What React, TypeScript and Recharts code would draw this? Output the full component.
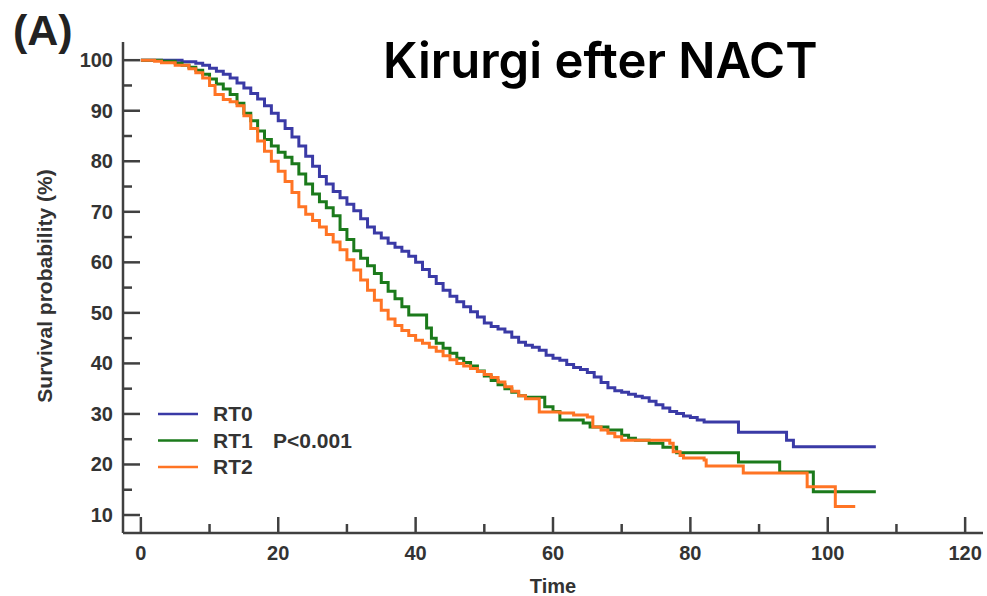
import { Legend, Line, LineChart, XAxis, YAxis } from "recharts";

// Kaplan-Meier steps: [time, survival %]
const rt0: [number, number][] = [
  [0, 100], [4, 100], [6, 99.7], [8, 99.4], [9, 99], [10, 98.4], [11, 97.8],
  [12, 97.2], [13, 96.5], [14, 95.5], [15, 94.5], [16, 93.4], [17, 92.3],
  [18, 91], [19, 89.5], [20, 88], [21, 86.5], [22, 84.8], [23, 83], [24, 81],
  [25, 79], [26, 77], [27, 75.5], [28, 74], [29, 72.8], [30, 71.5], [31, 70.2],
  [32, 68.6], [33, 67], [34, 65.8], [35, 64.8], [36, 63.8], [37, 63], [38, 62.2],
  [39, 61.2], [40, 60], [41, 58.6], [42, 57.2], [43, 55.8], [44, 54.5],
  [45, 53.3], [46, 52.2], [47, 51.2], [48, 50.2], [49, 49.2], [50, 48],
  [51, 47.3], [52, 46.8], [53, 46.2], [54, 45.2], [55, 44.2], [56, 43.6],
  [57, 43.2], [58, 42.6], [59, 41.6], [60, 41], [61, 40.6], [62, 39.8],
  [63, 39.2], [64, 38.8], [65, 38.2], [66, 37.3], [67, 36.2], [68, 35.2],
  [69, 34.6], [70, 34.3], [71, 33.9], [72, 33.5], [73, 33.2], [74, 32.5],
  [75, 31.8], [76, 31.2], [77, 30.5], [78, 30.1], [79, 29.6], [80, 29.3],
  [81, 28.8], [82, 28.4], [87, 26.4], [94, 24.8], [95, 23.5], [107, 23.5],
];

const rt1: [number, number][] = [
  [0, 100], [3, 99.8], [5, 99.4], [6, 99], [7, 98.6], [8, 98], [9, 97.2],
  [10, 96.3], [11, 95.3], [12, 94.3], [13, 93.2], [14, 91.5], [15, 89.5],
  [16, 88], [17, 86], [18, 84.3], [19, 83], [20, 81.8], [21, 80.8], [22, 79.5],
  [23, 77.5], [24, 75.5], [25, 73.5], [26, 72], [27, 70.8], [28, 69.2],
  [29, 66.5], [30, 64.5], [31, 62.3], [32, 60.8], [33, 59.3], [34, 57.8],
  [35, 56], [36, 54.3], [37, 52.8], [38, 51.2], [39, 49.6], [41.6, 47],
  [42.3, 45], [43, 44], [44, 43], [45, 42], [46, 41], [47, 40.2], [48, 39.5],
  [49, 38.5], [50, 37.5], [51, 36.6], [52, 35.8], [53, 35], [54, 34.3],
  [55, 33.6], [56, 33.3], [58.8, 31.4], [60, 30.5], [61, 28.8], [64.4, 28.2],
  [65.4, 27.4], [68, 26.8], [70, 25.8], [71, 25.2], [72, 24.8], [74, 24.2],
  [76, 23.4], [78, 22.3], [87, 20.5], [93, 18.5], [97.9, 14.6], [107, 14.6],
];

const rt2: [number, number][] = [
  [0, 100], [2, 99.8], [3, 99.5], [5, 99], [7, 98.3], [8, 97.5], [9, 96.5],
  [10, 95], [10.8, 93.2], [12, 92.2], [13, 91.8], [14, 91], [15, 89], [16, 86.5],
  [17, 84], [18, 82], [19, 80], [20, 78], [21, 76], [22, 73.8], [23, 71],
  [24, 69.5], [25, 68.3], [26, 67], [27, 65.5], [28, 64], [29, 62.5],
  [30, 60.5], [31, 58.5], [32, 56.5], [33, 54.5], [34, 52.5], [35, 50.5],
  [36, 48.8], [37, 47.5], [38, 46.5], [39, 45.5], [40, 44.6], [41, 44],
  [42, 43.2], [43, 42.4], [44, 41.5], [45, 40.7], [46, 40], [47, 39.5],
  [48, 39], [49, 38.4], [50, 37.8], [51, 37.2], [52, 36.3], [53, 35.4],
  [54, 34.5], [55, 33.6], [56, 33], [58, 30.4], [61, 30.2], [63, 29.8],
  [65, 29.4], [65.8, 27.4], [67, 26.8], [68, 26.2], [69, 25.5], [70, 24.8],
  [77, 24.2], [77.5, 22.5], [78.5, 21.8], [79, 21.3], [82, 20.9], [82.3, 19.7],
  [87.7, 18.3], [97, 15.6], [101.1, 11.7], [104, 11.7],
];

const xTicks = [0, 10, 20, 30, 40, 50, 60, 70, 80, 90, 100, 110, 120];
const yTicks = [10, 15, 20, 25, 30, 35, 40, 45, 50, 55, 60, 65, 70, 75, 80, 85, 90, 95, 100];

const AXIS = "#404040";
const FONT = "'Liberation Sans', Arial, sans-serif";

const series = [
  { name: "RT0", color: "#3a3aa6", points: rt0 },
  { name: "RT1", color: "#1b7a1b", points: rt1 },
  { name: "RT2", color: "#ff7424", points: rt2 },
];

const toRows = (pts: [number, number][]) => pts.map(([t, v]) => ({ t, v }));

const XTick = (props: any) => {
  const { x, y, payload } = props;
  const major = payload.value % 20 === 0;
  return (
    <g>
      <line x1={x} x2={x} y1={y} y2={y - (major ? 16 : 9)} stroke={AXIS} strokeWidth={2.5} />
      {major && (
        <text x={x} y={y + 27} textAnchor="middle" fontFamily={FONT} fontWeight="bold" fontSize={20} fill="#333">
          {payload.value}
        </text>
      )}
    </g>
  );
};

const YTick = (props: any) => {
  const { x, y, payload } = props;
  const major = payload.value % 10 === 0;
  return (
    <g>
      <line x1={x} x2={x + (major ? 17 : 9)} y1={y} y2={y} stroke={AXIS} strokeWidth={2.5} />
      {major && (
        <text x={x - 10} y={y + 7} textAnchor="end" fontFamily={FONT} fontWeight="bold" fontSize={20} fill="#333">
          {payload.value}
        </text>
      )}
    </g>
  );
};

const LegendBox = () => (
  <svg width={240} height={90}>
    {series.map((s, i) => (
      <g key={s.name}>
        <line x1={8} x2={48} y1={14 + i * 26.5} y2={14 + i * 26.5} stroke={s.color} strokeWidth={2.5} />
        <text x={63} y={21 + i * 26.5} fontFamily={FONT} fontWeight="bold" fontSize={21} fill="#333">
          {s.name}
        </text>
      </g>
    ))}
    <text x={123} y={47.5} fontFamily={FONT} fontWeight="bold" fontSize={21} fill="#333">
      P&lt;0.001
    </text>
  </svg>
);

export default function App() {
  return (
    <div style={{ position: "absolute", left: 0, top: 0, width: 987, height: 596, background: "#fff" }}>
      <LineChart width={987} height={596} margin={{ top: 42, right: 4, bottom: 0, left: 0 }}>
        <XAxis
          type="number"
          dataKey="t"
          domain={[-2.6, 122.6]}
          allowDataOverflow
          ticks={xTicks}
          interval={0}
          height={63}
          tickSize={0}
          tickMargin={0}
          tickLine={false}
          tick={<XTick />}
          axisLine={{ stroke: AXIS, strokeWidth: 2.5 }}
        />
        <YAxis
          type="number"
          dataKey="v"
          domain={[6.44, 103.6]}
          allowDataOverflow
          ticks={yTicks}
          interval={0}
          width={123}
          tickSize={0}
          tickMargin={0}
          tickLine={false}
          tick={<YTick />}
          axisLine={{ stroke: AXIS, strokeWidth: 2.5 }}
        />
        {series.map((s) => (
          <Line
            key={s.name}
            name={s.name}
            data={toRows(s.points)}
            dataKey="v"
            type="stepAfter"
            stroke={s.color}
            strokeWidth={3}
            dot={false}
            isAnimationActive={false}
          />
        ))}
        <Legend
          layout="vertical"
          align="center"
          verticalAlign="middle"
          content={<LegendBox />}
          wrapperStyle={{ left: 150, top: 400, width: 240, height: 90 }}
        />
      </LineChart>
      <svg width={987} height={596} style={{ position: "absolute", left: 0, top: 0, pointerEvents: "none" }}>
        <text x={13} y={45} fontFamily={FONT} fontWeight="bold" fontSize={43} fill="#222">
          (A)
        </text>
        <text x={383} y={78} fontFamily="Inter, 'Noto Sans', sans-serif" fontWeight={600} fontSize={49} fill="#000">
          Kirurgi efter NACT
        </text>
        <text x={553} y={593} textAnchor="middle" fontFamily={FONT} fontWeight="bold" fontSize={20} fill="#333">
          Time
        </text>
        <text
          x={52}
          y={286}
          transform="rotate(-90 52 286)"
          textAnchor="middle"
          fontFamily={FONT}
          fontWeight="bold"
          fontSize={21}
          fill="#333"
        >
          Survival probability (%)
        </text>
      </svg>
    </div>
  );
}
